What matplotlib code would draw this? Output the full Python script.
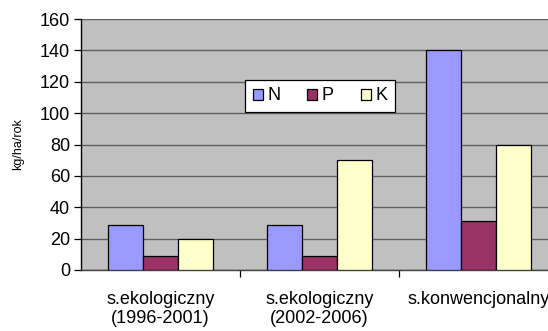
import numpy as np
import matplotlib.pyplot as plt

plt.rcParams['font.family'] = ['Liberation Sans', 'DejaVu Sans']

categories = ['s.ekologiczny\n(1996-2001)', 's.ekologiczny\n(2002-2006)', 's.konwencjonalny']
N = [29, 29, 140]
P = [9, 9, 31]
K = [20, 70, 80]
series = ['N', 'P', 'K']
colors = ['#9999FF', '#993366', '#FFFFCC']

fig = plt.figure(figsize=(5.48, 3.31), dpi=100)
ax = fig.add_axes([81/548, 61/331, 477/548, 251/331])
ax.set_facecolor('#C0C0C0')

x = np.arange(len(categories))
w = 0.222
for i, (vals, c) in enumerate(zip([N, P, K], colors)):
    ax.bar(x + (i - 1) * w, vals, w, color=c, edgecolor='black', linewidth=0.9,
           label=series[i], zorder=3)

ax.set_ylim(0, 160)
ax.set_yticks(range(0, 161, 20))
ax.set_xlim(-0.5, 2.5)
ax.yaxis.grid(True, color='#606060', linewidth=1.0, zorder=0)
ax.set_axisbelow(True)

# category boundaries carry the ticks, labels sit at centres
ax.set_xticks(x)
ax.set_xticklabels(categories, fontsize=13, linespacing=1.2)
ax.tick_params(axis='x', length=0, pad=15)
ax.set_xticks([0.5, 1.5, 2.5], minor=True)
ax.tick_params(axis='x', which='minor', length=5, width=0.9)
ax.tick_params(axis='y', labelsize=13, length=5, width=0.9, pad=3)

for s in ['top', 'right']:
    ax.spines[s].set_visible(False)
ax.spines['left'].set_linewidth(1.0)
ax.spines['bottom'].set_linewidth(1.0)
ax.spines['bottom'].set_color('#404040')

ax.set_ylabel('kg/ha/rok', fontsize=9, labelpad=11)

leg = ax.legend(loc='center', bbox_to_anchor=(320/548, 235/331),
                bbox_transform=fig.transFigure, ncol=3, fontsize=13,
                frameon=True, fancybox=False, framealpha=1, edgecolor='black',
                handlelength=0.55, handleheight=0.55, handletextpad=0.25,
                columnspacing=1.5, borderpad=0.4)
leg.get_frame().set_linewidth(0.9)

fig.savefig('out.png', dpi=100)
